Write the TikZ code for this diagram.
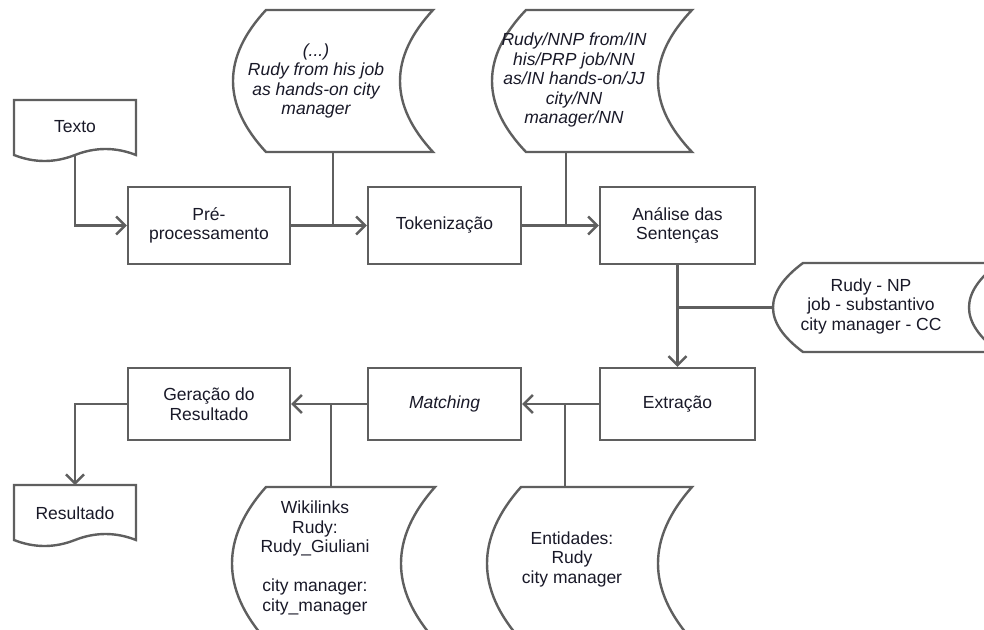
\documentclass[tikz,border=0pt]{standalone}
\usepackage{fontspec}
\setmainfont{Liberation Sans}
\usetikzlibrary{arrows.meta}
\definecolor{ln}{RGB}{95,95,95}
\definecolor{tx}{RGB}{25,25,40}
\newcommand{\stor}[5]{\draw[shp] ({#1+#5},#2) -- (#3,#2) .. controls ({#3-4*#5/3},{#2+(#4-#2)/3}) and ({#3-4*#5/3},{#4-(#4-#2)/3}) .. (#3,#4) -- ({#1+#5},#4) .. controls ({#1-#5/3},{#4-(#4-#2)/3}) and ({#1-#5/3},{#2+(#4-#2)/3}) .. cycle;}
\newcommand{\docshape}[4]{\draw[shp] (#1,#2) -- (#3,#2) -- (#3,#4) .. controls ({#3-(#3-#1)/6},{#4-8}) and ({(#1+#3)/2+(#3-#1)/6},{#4-8}) .. ({(#1+#3)/2},#4) .. controls ({(#1+#3)/2-(#3-#1)/6},{#4+8}) and ({#1+(#3-#1)/6},{#4+8}) .. (#1,#4) -- cycle;}
\tikzset{
  shp/.style={draw=ln, line width=2.4pt, fill=white},
  box/.style={shp, rectangle, align=center, text=tx, font=\fontsize{17.5}{19.5}\selectfont, inner sep=0pt},
  lbl/.style={align=center, text=tx, font=\fontsize{17.5}{19.5}\selectfont, inner sep=0pt},
  ilbl/.style={lbl, font=\fontsize{17.5}{19.5}\selectfont\itshape},
  con/.style={draw=ln, line width=2.4pt},
  arr/.style={con, -{Straight Barb[length=9pt,width=18pt,line width=2.4pt]}}
}
\begin{document}
\begin{tikzpicture}[x=1pt,y=-1pt]
\useasboundingbox (0,0) rectangle (984,629);
\begin{scope}
\clip (0,0) rectangle (984,629);
% shapes
\docshape{14}{100}{136}{155}
\docshape{14}{485}{136}{540}
\stor{233}{10}{433}{152}{33}
\stor{492}{10}{692}{152}{34}
\stor{773}{263}{999}{352}{30}
\stor{232}{487}{435}{640}{34}
\stor{487}{487}{692}{640}{34}
% labels
\node[lbl] (texto) at (75,127) {Texto};
\node[lbl] (res) at (75,513) {Resultado};
\node[ilbl] (s1) at (316,81) {(...)\\Rudy from his job\\as hands-on city\\manager};
\node[ilbl] (s2) at (574,80) {Rudy/NNP from/IN\\his/PRP job/NN\\as/IN hands-on/JJ\\city/NN\\manager/NN};
\node[lbl] (s3) at (871,306) {Rudy - NP\\job - substantivo\\city manager - CC};
\node[lbl] (s4) at (315,558) {Wikilinks\\Rudy:\\Rudy\_Giuliani\\[19.5pt]city manager:\\city\_manager};
\node[lbl] (s5) at (572,559) {Entidades:\\Rudy\\city manager};
% boxes
\node[box, minimum width=162pt, minimum height=77pt] (pre) at (209,225.5) {Pré-\\processamento};
\node[box, minimum width=153pt, minimum height=77pt] (tok) at (444.5,225.5) {Tokenização};
\node[box, minimum width=155pt, minimum height=77pt] (ana) at (677.5,225.5) {Análise das\\Sentenças};
\node[box, minimum width=155pt, minimum height=72pt] (ext) at (677.5,404) {Extração};
\node[box, minimum width=153pt, minimum height=72pt] (mat) at (444.5,404) {\itshape Matching};
\node[box, minimum width=162pt, minimum height=72pt] (ger) at (209,404) {Geração do\\Resultado};
% attachment points
\coordinate (textoB) at (75,155);
\coordinate (resT) at (75,485);
\coordinate (s1b) at (333,152);
\coordinate (s2b) at (566,152);
\coordinate (s3l) at (773,307.5);
\coordinate (s4t) at (331,487);
\coordinate (s5t) at (565,487);
% connectors
\draw[arr] (textoB) |- (pre.west);
\draw[arr] (pre.east) -- (tok.west);
\draw[con] (s1b) -- (s1b |- pre.east);
\draw[arr] (tok.east) -- (ana.west);
\draw[con] (s2b) -- (s2b |- tok.east);
\draw[arr] (ana.south) -- (ext.north);
\draw[con] (s3l) -- (s3l -| ana.south);
\draw[arr] (ext.west) -- (mat.east);
\draw[con] (s5t) -- (s5t |- ext.west);
\draw[arr] (mat.west) -- (ger.east);
\draw[con] (s4t) -- (s4t |- mat.west);
\draw[arr] (ger.west) -| (resT);
\end{scope}
\end{tikzpicture}
\end{document}
